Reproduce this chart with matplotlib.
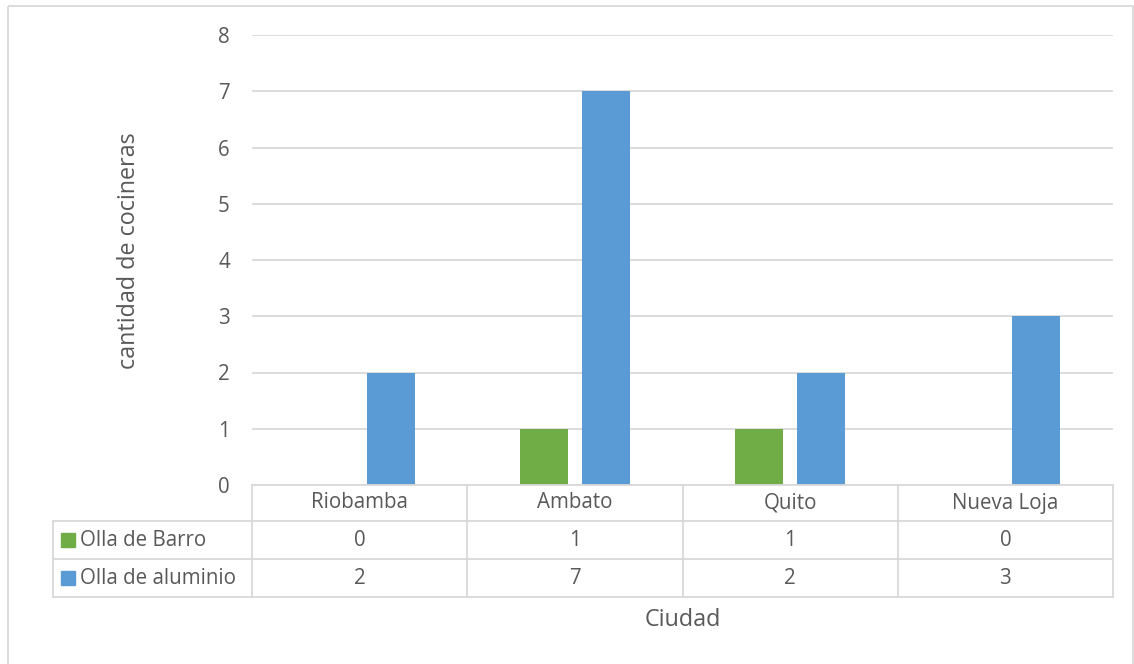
import numpy as np
import matplotlib
matplotlib.use("Agg")
import matplotlib.pyplot as plt
from matplotlib.patches import Rectangle

plt.rcParams['font.family'] = ['Open Sans', 'DejaVu Sans']

ciudades = ["Riobamba", "Ambato", "Quito", "Nueva Loja"]
series = ["Olla de Barro", "Olla de aluminio"]
olla_barro = [0, 1, 1, 0]
olla_aluminio = [2, 7, 2, 3]
colores = ["#70AD47", "#5B9BD5"]
texto = "#595959"
linea = "#D9D9D9"
fs = 14.8
fs_titulo = 16.8

W, H = 1134, 664
fig = plt.figure(figsize=(W / 100, H / 100), dpi=100)

# area del grafico en pixeles
x0, x1 = 252, 1113
y_top, y_base = 35, 485
ax = fig.add_axes([x0 / W, (H - y_base) / H, (x1 - x0) / W, (y_base - y_top) / H])

x = np.arange(len(ciudades))
ancho = 0.223
ax.bar(x - 0.144, olla_barro, ancho, color=colores[0], zorder=3)
ax.bar(x + 0.144, olla_aluminio, ancho, color=colores[1], zorder=3)
ax.set_xlim(-0.5, len(ciudades) - 0.5)
ax.set_ylim(0, 8)
ax.set_yticks(range(0, 9))
ax.yaxis.grid(True, color=linea, linewidth=1.3)
ax.set_axisbelow(True)
ax.set_xticks([])
for s in ax.spines.values():
    s.set_visible(False)
ax.tick_params(axis='y', length=0, pad=16, labelsize=fs, labelcolor=texto)
ax.set_ylabel("cantidad de cocineras", fontsize=fs_titulo, color=texto)
ax.yaxis.set_label_coords((141 - x0) / (x1 - x0), (y_base - 251) / (y_base - y_top))

# capa para la tabla de datos, en pixeles
ov = fig.add_axes([0, 0, 1, 1])
ov.set_xlim(0, W)
ov.set_ylim(H, 0)
ov.axis("off")

# marco del grafico
ov.add_patch(Rectangle((8, 6), W - 9, H, fill=False, edgecolor=linea, linewidth=1.3))

filas = [485, 521, 559, 597]
col_izq = 53
cat_w = (x1 - x0) / len(ciudades)
bordes = [x0 + i * cat_w for i in range(len(ciudades) + 1)]

ov.plot([x0, x1], [filas[0], filas[0]], color=linea, lw=1.3)
for y in filas[1:]:
    ov.plot([col_izq, x1], [y, y], color=linea, lw=1.3)
ov.plot([col_izq, col_izq], [filas[1], filas[3]], color=linea, lw=1.3)
for bx in bordes:
    ov.plot([bx, bx], [filas[0], filas[3]], color=linea, lw=1.3)

for i, c in enumerate(ciudades):
    cx = (bordes[i] + bordes[i + 1]) / 2
    ov.text(cx, (filas[0] + filas[1]) / 2, c, ha="center", va="center", fontsize=fs, color=texto)
    for j, vals in enumerate([olla_barro, olla_aluminio]):
        ov.text(cx, (filas[j + 1] + filas[j + 2]) / 2, str(vals[i]), ha="center", va="center",
                fontsize=fs, color=texto)

for j, nombre in enumerate(series):
    yc = (filas[j + 1] + filas[j + 2]) / 2
    ov.add_patch(Rectangle((61, yc - 7), 14, 14, color=colores[j]))
    ov.text(80, yc, nombre, ha="left", va="center", fontsize=fs, color=texto)

ov.text((x0 + x1) / 2, 620, "Ciudad", ha="center", va="center", fontsize=fs_titulo, color=texto)

fig.savefig("out.png", dpi=100)
